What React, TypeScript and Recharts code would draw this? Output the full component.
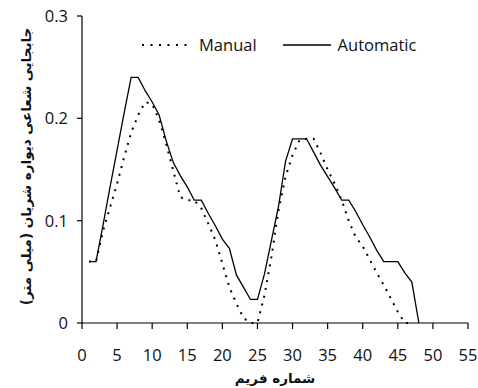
import React from 'react';
import { LineChart, Line, XAxis, YAxis } from 'recharts';

// Frame numbers and wall displacement (mm)
const frames = [
    1, 2, 3, 4, 5, 6, 7, 8, 9, 10, 11, 12, 13, 14, 15, 16, 17, 18, 19, 20, 21, 22, 23, 24,
    25, 26, 27, 28, 29, 30, 31, 32, 33, 34, 35, 36, 37, 38, 39, 40, 41, 42, 43, 44, 45, 46, 47, 48,
];
const manual = [
    0.06, 0.06, 0.09, 0.113, 0.136, 0.162, 0.186, 0.203, 0.216, 0.214, 0.198, 0.175, 0.149, 0.123,
    0.12, 0.12, 0.112, 0.097, 0.081, 0.058, 0.035, 0.019, 0.005, 0, 0, 0.027, 0.065, 0.11, 0.143,
    0.164, 0.179, 0.18, 0.18, 0.166, 0.15, 0.136, 0.12, 0.1, 0.084, 0.075, 0.062, 0.049, 0.037,
    0.024, 0.011, 0, 0, null,
];
const automatic = [
    0.06, 0.06, 0.096, 0.133, 0.169, 0.205, 0.24, 0.24, 0.227, 0.216, 0.203, 0.178, 0.157, 0.144,
    0.133, 0.12, 0.12, 0.107, 0.095, 0.082, 0.073, 0.047, 0.035, 0.023, 0.023, 0.048, 0.081, 0.114,
    0.158, 0.18, 0.18, 0.18, 0.167, 0.154, 0.143, 0.132, 0.12, 0.12, 0.109, 0.096, 0.084, 0.071,
    0.06, 0.06, 0.06, 0.049, 0.04, 0,
];
const xTicks = [0, 5, 10, 15, 20, 25, 30, 35, 40, 45, 50, 55];
const yTicks = [0, 0.1, 0.2, 0.3];

const xTitle = 'شماره فریم';
const yTitle = 'جابجایی شعاعی دیواره شریان (میلی متر)';

const data = frames.map((f, i) => ({ frame: f, manual: manual[i], automatic: automatic[i] }));

const FONT = '"Open Sans", "DejaVu Sans", sans-serif';
const tickStyle = { fontSize: 16.5, fill: '#111', fontFamily: FONT };

// legend drawn as an overlay so it doesn't eat plot space
const LegendBox = () => (
    <div
        style={{
            position: 'absolute', top: 33, left: 141, display: 'flex', alignItems: 'center',
            fontFamily: FONT, fontSize: 16.5, color: '#111', lineHeight: '24px',
        }}
    >
        <svg width={50} height={10} style={{ marginRight: 8 }}>
            <line x1={1} y1={5} x2={49} y2={5} stroke="#000" strokeWidth={2} strokeDasharray="2 6.5" />
        </svg>
        <span>Manual</span>
        <svg width={50} height={10} style={{ marginLeft: 26, marginRight: 5 }}>
            <line x1={0} y1={5} x2={48} y2={5} stroke="#000" strokeWidth={1.3} />
        </svg>
        <span>Automatic</span>
    </div>
);

const YTitle = (props: any) => {
    const { viewBox } = props;
    const cx = 26;
    const cy = viewBox.y + viewBox.height / 2 - 3;
    return (
        <text
            x={cx}
            y={cy}
            transform={`rotate(-90, ${cx}, ${cy})`}
            textAnchor="middle"
            dominantBaseline="central"
            fontFamily='"DejaVu Sans", sans-serif'
            fontWeight="bold"
            fontSize={13.5}
            fill="#111"
        >
            {yTitle}
        </text>
    );
};

const XTitle = (props: any) => {
    const { viewBox } = props;
    return (
        <text
            x={viewBox.x + viewBox.width / 2}
            y={378}
            textAnchor="middle"
            dominantBaseline="central"
            fontFamily='"DejaVu Sans", sans-serif'
            fontWeight="bold"
            fontSize={13.5}
            fill="#111"
        >
            {xTitle}
        </text>
    );
};

const App: React.FC = () => {
    return (
        <div style={{ position: 'absolute', left: 0, top: 0, width: 478, height: 388, background: '#fff' }}>
            <LineChart width={478} height={388} data={data} margin={{ top: 16, right: 10, bottom: 0, left: 0 }}>
                <XAxis
                    dataKey="frame"
                    type="number"
                    domain={[0, 55]}
                    ticks={xTicks}
                    interval={0}
                    height={65}
                    tickSize={6}
                    tickMargin={20}
                    tick={tickStyle}
                    axisLine={{ stroke: '#000', strokeWidth: 1.2 }}
                    tickLine={{ stroke: '#000', strokeWidth: 1.2 }}
                    label={<XTitle />}
                />
                <YAxis
                    type="number"
                    domain={[0, 0.3]}
                    ticks={yTicks}
                    interval={0}
                    width={82}
                    tickSize={5}
                    tickMargin={9}
                    tick={tickStyle}
                    tickFormatter={(v: number) => (v === 0 ? '0' : v.toFixed(1))}
                    axisLine={{ stroke: '#000', strokeWidth: 1.2 }}
                    tickLine={{ stroke: '#000', strokeWidth: 1.2 }}
                    label={<YTitle />}
                />
                <Line
                    dataKey="manual"
                    stroke="#000"
                    strokeWidth={2}
                    strokeDasharray="2 6"
                    dot={false}
                    activeDot={false}
                    isAnimationActive={false}
                />
                <Line
                    dataKey="automatic"
                    stroke="#000"
                    strokeWidth={1.3}
                    dot={false}
                    activeDot={false}
                    isAnimationActive={false}
                />
            </LineChart>
            <LegendBox />
        </div>
    );
};

export default App;
